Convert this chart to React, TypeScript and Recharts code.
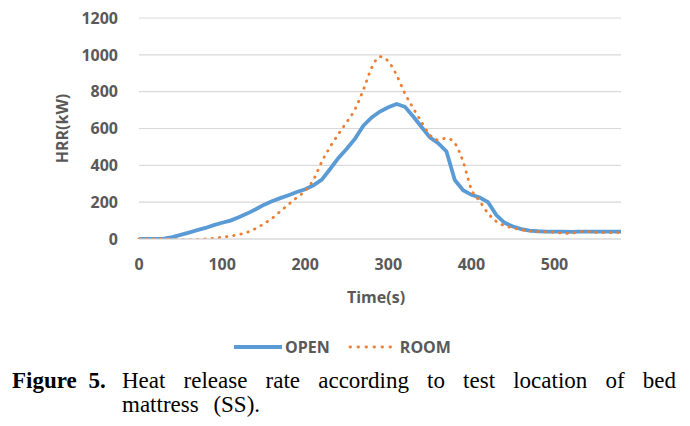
import React from "react";
import { LineChart, Line, XAxis, YAxis, CartesianGrid, Legend } from "recharts";

const times = [0,10,20,30,40,50,60,70,80,90,100,110,120,130,140,150,160,170,180,190,200,210,220,230,240,250,260,270,280,290,300,310,320,330,340,350,360,370,380,390,400,410,420,430,440,450,460,470,480,490,500,510,520,530,540,550,560,570,580];
const openHRR = [0,0,0,2,10,22,35,48,60,75,88,100,118,138,160,185,205,222,238,255,270,292,322,380,440,490,545,615,660,692,715,733,718,665,608,552,520,475,320,265,240,225,200,130,88,68,54,46,42,40,40,40,39,40,40,40,40,40,40];
const roomHRR = [0,0,0,0,-2,-3,-3,-2,0,4,10,16,24,36,56,82,112,150,188,225,262,322,420,500,570,635,705,810,930,990,965,890,790,710,635,565,538,548,520,420,270,205,140,95,72,60,50,43,40,38,36,32,30,40,40,36,35,35,35];
const yTicks = [0,200,400,600,800,1000,1200];
const xTicks = [0,100,200,300,400,500];

const data = times.map((t, i) => ({ t, OPEN: openHRR[i], ROOM: roomHRR[i] }));

const FONT = "'Open Sans', sans-serif";
const GRAY = "#595959";
const BLUE = "#5B9BD5";
const ORANGE = "#ED7D31";

const XLabel = (props: any) => {
  const vb = props.viewBox || {};
  return (
    <text x={vb.x + vb.width / 2 - 4} y={vb.y + 58} textAnchor="middle" dominantBaseline="central"
      fontFamily={FONT} fontWeight={700} fontSize={16} fill={GRAY}>Time(s)</text>
  );
};

const YLabel = (props: any) => {
  const vb = props.viewBox || {};
  const cx = 62;
  const cy = vb.y + vb.height / 2;
  return (
    <text x={cx} y={cy} transform={`rotate(-90 ${cx} ${cy})`} textAnchor="middle" dominantBaseline="central"
      fontFamily={FONT} fontWeight={700} fontSize={16} fill={GRAY}>HRR(kW)</text>
  );
};

const LegendContent = () => (
  <div style={{ display: "flex", justifyContent: "center", alignItems: "center", height: 30, paddingRight: 6, fontFamily: FONT, fontWeight: 700, fontSize: 16, color: GRAY }}>
    <svg width={50} height={10} style={{ marginRight: 2 }}>
      <line x1={1} y1={5} x2={49} y2={5} stroke={BLUE} strokeWidth={4} />
    </svg>
    <span style={{ marginRight: 18 }}>OPEN</span>
    <svg width={46} height={10} style={{ marginRight: 6 }}>
      <line x1={2} y1={5} x2={45} y2={5} stroke={ORANGE} strokeWidth={2.8} strokeLinecap="round" strokeDasharray="0.5 7.5" />
    </svg>
    <span>ROOM</span>
  </div>
);

export default function App() {
  return (
    <div style={{ position: "absolute", left: 0, top: 0, width: 690, height: 426, background: "#fff" }}>
      <LineChart width={690} height={366} data={data} margin={{ top: 18, right: 69, bottom: 4, left: 0 }}>
        <CartesianGrid horizontal={true} vertical={false} stroke="#d9d9d9" strokeWidth={1.2} />
        <XAxis dataKey="t" type="number" domain={[0, 580]} ticks={xTicks} interval={0}
          height={93} tickLine={false} tickSize={0} tickMargin={20} axisLine={{ stroke: "#d9d9d9" }}
          tick={{ fontFamily: FONT, fontWeight: 700, fontSize: 16, fill: GRAY }}
          label={<XLabel />} />
        <YAxis type="number" domain={[0, 1200]} ticks={yTicks} interval={0} width={139} allowDataOverflow
          tickLine={false} tickSize={0} tickMargin={21} axisLine={false}
          tick={{ fontFamily: FONT, fontWeight: 700, fontSize: 16, fill: GRAY }}
          label={<YLabel />} />
        <Legend verticalAlign="bottom" height={30} wrapperStyle={{ left: 0, width: 690 }} content={<LegendContent />} />
        <Line type="linear" dataKey="OPEN" stroke={BLUE} strokeWidth={3.8} dot={false} isAnimationActive={false} />
        <Line type="monotone" dataKey="ROOM" stroke={ORANGE} strokeWidth={2.8} strokeLinecap="round" strokeDasharray="0.5 6.8" dot={false} isAnimationActive={false} />
      </LineChart>
      <div style={{ position: "absolute", left: 12, top: 369, width: 664, display: "flex", fontFamily: "'Liberation Serif', 'Times New Roman', serif", fontSize: 23, lineHeight: "24px", color: "#000" }}>
        <div style={{ width: 110, flex: "none", fontWeight: "bold", wordSpacing: 6 }}>Figure 5.</div>
        <div style={{ flex: 1, textAlign: "justify", wordSpacing: 9 }}>Heat release rate according to test location of bed mattress (SS).</div>
      </div>
    </div>
  );
}
